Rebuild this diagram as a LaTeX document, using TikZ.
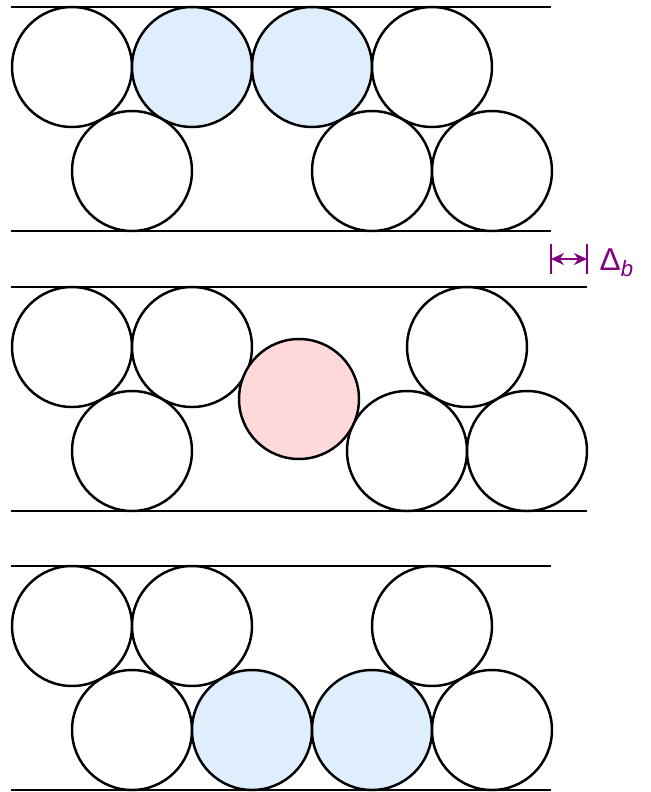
\documentclass[tikz,border=0pt]{standalone}
\usepackage{fontspec}
\setmainfont{Liberation Sans}
\usetikzlibrary{arrows.meta, positioning}
\definecolor{bluefill}{RGB}{222,238,252}
\definecolor{pinkfill}{RGB}{255,216,218}
\definecolor{dimpurple}{RGB}{128,0,128}

\begin{document}
\begin{tikzpicture}[x=0.02cm, y=-0.02cm,
  ball/.style={circle, draw=black, line width=1.4pt, minimum size=2.4cm, inner sep=0pt, fill=white},
  blueball/.style={ball, fill=bluefill},
  pinkball/.style={ball, fill=pinkfill},
  wall/.style={line width=1.4pt},
  dimline/.style={draw=dimpurple, line width=1.4pt},
  dimarrow/.style={{Stealth[length=2.6mm, width=2.4mm]}-{Stealth[length=2.6mm, width=2.4mm]}, draw=dimpurple, line width=1.4pt}
]
\useasboundingbox (0,0) rectangle (650,792);

% 上层 (top)
\draw [wall] (11,7) -- (551,7);
\draw [wall] (11,231) -- (551,231);
\node (t1) [ball] at (72,67) {};
\node (t2) [blueball] at (192,67) {};
\node (t3) [blueball] at (312,67) {};
\node (t4) [ball] at (432,67) {};
\node (t5) [ball] at (132,171) {};
\node (t6) [ball] at (372,171) {};
\node (t7) [ball] at (492,171) {};

% 中层 (middle)
\draw [wall] (11,287) -- (587,287);
\draw [wall] (11,511) -- (587,511);
\node (m1) [ball] at (72,347) {};
\node (m2) [ball] at (192,347) {};
\node (m3) [ball] at (467,347) {};
\node (m4) [ball] at (132,451) {};
\node (m5) [ball] at (407,451) {};
\node (m6) [ball] at (527,451) {};
\node (mp) [pinkball] at (299,399) {};

% 下层 (bottom)
\draw [wall] (11,566) -- (551,566);
\draw [wall] (11,790) -- (551,790);
\node (b1) [ball] at (72,626) {};
\node (b2) [ball] at (192,626) {};
\node (b3) [ball] at (432,626) {};
\node (b4) [ball] at (132,730) {};
\node (b5) [blueball] at (252,730) {};
\node (b6) [blueball] at (372,730) {};
\node (b7) [ball] at (492,730) {};

% 间隙标注
\coordinate (dl) at (551,259);
\coordinate (dr) at (587,259);
\draw [dimline] (551,244) -- (551,274);
\draw [dimline] (587,244) -- (587,274);
\draw [dimarrow] (dl) -- (dr);
\node [right=7pt of dr, text=dimpurple, font=\fontsize{18pt}{21pt}\selectfont, inner sep=0pt, yshift=-2pt] {Δ\textsubscript{\textit{b}}};

\end{tikzpicture}
\end{document}
